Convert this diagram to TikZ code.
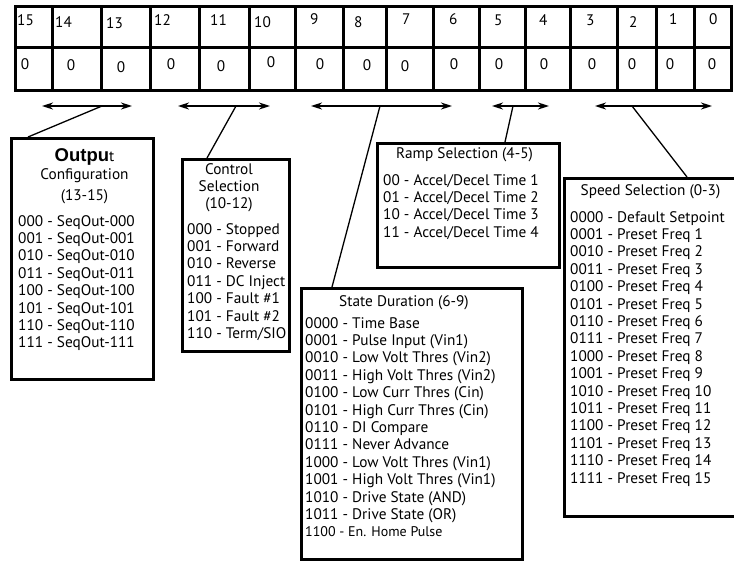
\documentclass[tikz,border=0pt]{standalone}
\usepackage{fontspec}
\setmainfont{PT Sans}
\newfontfamily\boldhead{Liberation Sans}
\usetikzlibrary{positioning,calc,arrows.meta}

\tikzset{
  gridline/.style={line width=3pt},
  infobox/.style={draw,line width=3pt,anchor=north west,inner sep=0pt},
  boxhead/.style={align=center,inner sep=0pt,anchor=north},
  boxlist/.style={align=left,inner sep=0pt,anchor=north west},
  fieldarrow/.style={{Stealth[length=11pt,width=7pt]}-{Stealth[length=11pt,width=7pt]},line width=2pt},
  leader/.style={line width=1.3pt}
}

\begin{document}
\begin{tikzpicture}[x=1pt,y=-1pt,font=\fontsize{15.3}{17.4}\selectfont]
\useasboundingbox (0,0) rectangle (734,560);
% register
\draw[gridline] (15,6) rectangle (731,90);
\draw[gridline] (15,47) -- (731,47);
\foreach \x in {52,101,150,199,249,295,343,386,433,479,525,570,617,656,694}
  \draw[gridline] (\x,6) -- (\x,90);
\foreach \b/\x/\y in {15/17/20,14/55/22,13/106/23,12/154/20,11/210/20,10/254/22,9/310/19,8/354/22,
                      7/402/19,6/449/19,5/494/20,4/539/20,3/586/20,2/629/22,1/669/19,0/709/19}
  \node[anchor=west,inner sep=0pt] (bit\b) at (\x,\y) {\b};
\foreach \b/\x/\y in {15/25/64,14/71/65,13/121/67,12/171/64,11/221/66,10/271/62,9/320/64,8/367/65,
                      7/405/66,6/454/64,5/499/64,4/544/64,3/592/64,2/632/64,1/670/64,0/712/64}
  \node[inner sep=0pt] (val\b) at (\x,\y) {0};

% field boxes
\node[infobox,minimum width=142pt,minimum height=241pt] (outbox) at (10,137) {};
\node[infobox,minimum width=107pt,minimum height=192pt] (ctrlbox) at (181,158) {};
\node[infobox,minimum width=182pt,minimum height=124pt] (rampbox) at (376,142) {};
\node[infobox,minimum width=221pt,minimum height=271pt] (statebox) at (300,287) {};
\node[infobox,minimum width=190pt,minimum height=338pt] (speedbox) at (563,177) {};

\node[boxhead,below=11pt of outbox.north,xshift=2pt] (outhead) {{\boldhead\bfseries\fontsize{18.5}{17.4}\selectfont Outpu}t\\[1pt]Configuration\\[4pt](13-15)};
\node[boxlist,below right=78pt and 8pt of outbox.north west] (outlist) {000 - SeqOut-000\\001 - SeqOut-001\\010 - SeqOut-010\\011 - SeqOut-011\\100 - SeqOut-100\\101 - SeqOut-101\\110 - SeqOut-110\\111 - SeqOut-111};

\node[boxhead,below=5pt of ctrlbox.north,xshift=-7pt] (ctrlhead) {Control\\Selection\\(10-12)};
\node[boxlist,below right=65pt and 6pt of ctrlbox.north west] (ctrllist) {000 - Stopped\\001 - Forward\\010 - Reverse\\011 - DC Inject\\100 - Fault \#1\\101 - Fault \#2\\110 - Term/SIO};

\node[boxhead,below=5pt of rampbox.north,xshift=-4pt] (ramphead) {Ramp Selection (4-5)};
\node[boxlist,below right=32pt and 7pt of rampbox.north west] (ramplist) {00 - Accel/Decel Time 1\\01 - Accel/Decel Time 2\\10 - Accel/Decel Time 3\\11 - Accel/Decel Time 4};

\node[boxhead,below=8pt of statebox.north,xshift=-8pt] (statehead) {State Duration (6-9)};
\node[boxlist,below right=30pt and 5pt of statebox.north west] (statelist) {0000 - Time Base\\0001 - Pulse Input (Vin1)\\0010 - Low Volt Thres (Vin2)\\0011 - High Volt Thres (Vin2)\\0100 - Low Curr Thres (Cin)\\0101 - High Curr Thres (Cin)\\0110 - DI Compare\\0111 - Never Advance\\1000 - Low Volt Thres (Vin1)\\1001 - High Volt Thres (Vin1)\\1010 - Drive State (AND)\\1011 - Drive State (OR)\\{\fontsize{14}{17.4}\selectfont 1100 - En. Home Pulse}};

\node[boxhead,below=7pt of speedbox.north,xshift=-9pt] (speedhead) {Speed Selection (0-3)};
\node[boxlist,below right=34pt and 7pt of speedbox.north west] (speedlist) {0000 - Default Setpoint\\0001 - Preset Freq 1\\0010 - Preset Freq 2\\0011 - Preset Freq 3\\0100 - Preset Freq 4\\0101 - Preset Freq 5\\0110 - Preset Freq 6\\0111 - Preset Freq 7\\1000 - Preset Freq 8\\1001 - Preset Freq 9\\1010 - Preset Freq 10\\1011 - Preset Freq 11\\1100 - Preset Freq 12\\1101 - Preset Freq 13\\1110 - Preset Freq 14\\1111 - Preset Freq 15};

% bit ranges
\coordinate (outL) at (42,106);   \coordinate (outR) at (132,106);  \coordinate (outM) at (102,106);
\coordinate (ctrlL) at (178,106); \coordinate (ctrlR) at (270,106); \coordinate (ctrlM) at (236,106);
\coordinate (stateL) at (311,106);\coordinate (stateR) at (452,106);\coordinate (stateM) at (380,106);
\coordinate (rampL) at (492,106); \coordinate (rampR) at (549,106); \coordinate (rampM) at (513,106);
\coordinate (speedL) at (595,106);\coordinate (speedR) at (712,106);\coordinate (speedM) at (632,106);
\foreach \f in {out,ctrl,state,ramp,speed}
  \draw[fieldarrow] (\f L) -- (\f R);

\draw[leader] (outM) -- ($(outbox.north west)+(18,0)$);
\draw[leader] (ctrlM) -- ($(ctrlbox.north west)+(26,0)$);
\draw[leader] (stateM) -- ($(statebox.north west)+(32,0)$);
\draw[leader] (rampM) -- ($(rampbox.north west)+(129,0)$);
\draw[leader] (speedM) -- ($(speedbox.north west)+(124,0)$);
\end{tikzpicture}
\end{document}
